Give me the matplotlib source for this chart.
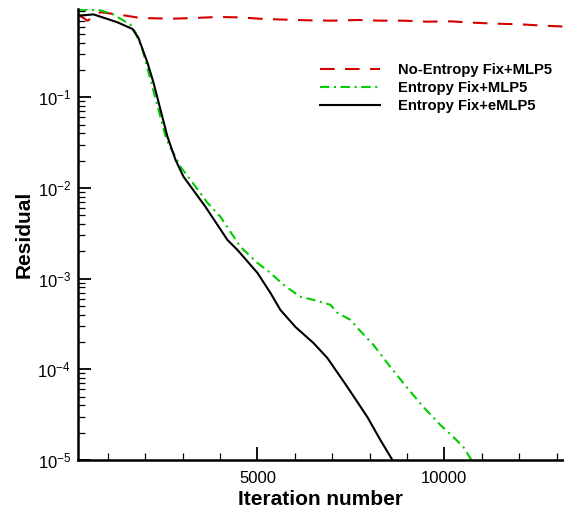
import math
import matplotlib
matplotlib.use("Agg")
import matplotlib.pyplot as plt
from matplotlib.ticker import FixedLocator, MultipleLocator, LogLocator, NullFormatter, FuncFormatter

plt.rcParams['font.family'] = ['Liberation Sans', 'DejaVu Sans']
plt.rcParams['mathtext.fontset'] = 'custom'
plt.rcParams['mathtext.rm'] = 'Liberation Sans'

# no entropy fix, MLP5
it_noef = [200, 455, 802, 1471, 1872, 2727, 3289, 3931, 4546, 5161, 5803, 6418,
           7033, 7674, 8289, 8931, 9546, 10161, 10803, 11418, 12033, 12675, 13300]
res_noef = [0.82, 0.698, 0.867, 0.794, 0.748, 0.735, 0.748, 0.767, 0.760, 0.730, 0.716, 0.704,
            0.699, 0.711, 0.699, 0.699, 0.681, 0.687, 0.663, 0.647, 0.637, 0.615, 0.600]

# entropy fix, MLP5
it_ef = [200, 267, 802, 1150, 1604, 1738, 1925, 2139, 2353, 2567, 2941, 3209, 3663, 4011,
         4546, 5000, 5348, 5696, 6150, 6498, 6952, 7140, 7487, 7674, 8102, 8557, 9011,
         9439, 9894, 10241, 10509, 10723, 10800]
res_ef = [0.93, 0.925, 0.908, 0.815, 0.631, 0.515, 0.334, 0.156, 0.0728, 0.034, 0.0171,
          0.01228, 0.00686, 0.0048, 0.00224, 0.00149, 0.001156, 8.55e-4, 6.30e-4, 5.83e-4,
          5.14e-4, 4.19e-4, 3.51e-4, 2.86e-4, 1.86e-4, 1.06e-4, 6.22e-5, 3.84e-5, 2.43e-5,
          1.79e-5, 1.39e-5, 1.0e-5, 9.0e-6]

# entropy fix, eMLP5
it_eef = [200, 241, 615, 1257, 1658, 1818, 2059, 2219, 2407, 2594, 2808, 3022, 3610, 4198,
          4466, 5000, 5348, 5615, 6017, 6498, 6872, 7407, 7942, 8289, 8610, 8700]
res_eef = [0.78, 0.794, 0.820, 0.670, 0.566, 0.450, 0.240, 0.145, 0.0728, 0.0366, 0.0204,
           0.0133, 0.00619, 0.00267, 0.00207, 0.001156, 6.95e-4, 4.51e-4, 2.93e-4, 1.95e-4,
           1.33e-4, 6.37e-5, 2.97e-5, 1.66e-5, 1.0e-5, 8.5e-6]

labels = ["No-Entropy Fix+MLP5", "Entropy Fix+MLP5", "Entropy Fix+eMLP5"]

fig = plt.figure(figsize=(5.64, 5.15), dpi=100)
ax = fig.add_axes([78/564, 55/515, 1 - 78/564, (460 - 9)/515])

ax.plot(it_noef, res_noef, color='#d40000', lw=1.5, dashes=(7, 5), label=labels[0])
ax.plot(it_ef, res_ef, color='#00cc00', lw=1.5, dashes=(4.5, 2.2, 1, 2.2), label=labels[1])
ax.plot(it_eef, res_eef, color='black', lw=1.5, label=labels[2])

ax.set_yscale('log')
ax.set_xlim(200, 13200)
ax.set_ylim(1e-5, 0.94)

ax.xaxis.set_major_locator(FixedLocator([5000, 10000]))
ax.xaxis.set_minor_locator(MultipleLocator(1000))
ax.yaxis.set_major_locator(LogLocator(base=10, numticks=10))
ax.yaxis.set_minor_locator(LogLocator(base=10, subs=range(2, 10), numticks=20))
ax.yaxis.set_minor_formatter(NullFormatter())
ax.yaxis.set_major_formatter(FuncFormatter(lambda v, p: r'$\mathregular{10^{%d}}$' % round(math.log10(v))))

ax.tick_params(which='major', direction='in', length=9.5, width=1.3, labelsize=12)
ax.tick_params(axis='x', which='major', pad=8)
ax.tick_params(axis='y', which='major', pad=5)
ax.tick_params(which='minor', direction='in', length=5, width=0.9)
ax.spines['top'].set_visible(False)
ax.spines['right'].set_visible(False)
ax.spines['left'].set_linewidth(1.8)
ax.spines['bottom'].set_linewidth(1.8)

ax.set_xlabel("Iteration number", fontsize=15, fontweight='bold', labelpad=3)
ax.set_ylabel("Residual", fontsize=15, fontweight='bold', labelpad=3)

leg = ax.legend(loc='upper left', bbox_to_anchor=(320/564, 1 - 63/515),
                bbox_transform=fig.transFigure, frameon=False,
                prop={'weight': 'bold', 'size': 10.6}, handlelength=4.1,
                handletextpad=1.2, labelspacing=0.28, borderaxespad=0, borderpad=0)

fig.savefig("out.png", dpi=100)
